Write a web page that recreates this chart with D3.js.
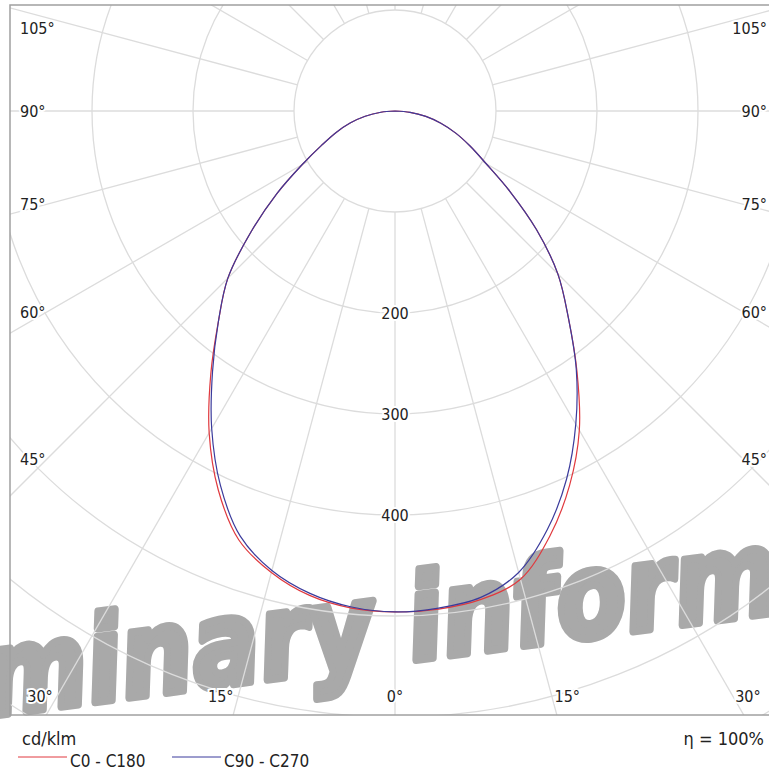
<!DOCTYPE html>
<html>
<head>
<meta charset="utf-8">
<title>Polar LDC</title>
<script src="https://cdn.jsdelivr.net/npm/d3@7"></script>
<style>
  body { margin: 0; background: #fff; }
  svg text { font-family: "DejaVu Sans Condensed", "DejaVu Sans", sans-serif; fill: #222; }
</style>
</head>
<body>
<div id="chart"></div>
<script>
var width = 769, height = 774;

// luminous intensity (cd/klm) by gamma angle
var gammaDeg = [0, 5, 10, 15, 20, 25, 30, 35, 40, 45, 50, 55, 60, 65, 70, 75, 80, 85, 90];
var c0   = [496, 495, 491, 480, 448, 409, 365, 314, 267, 228, 183, 139, 104, 82, 64, 47, 31, 15, 0];
var c180 = [496, 494, 487, 473, 452, 414, 368, 318, 272, 234, 186, 143, 106, 80, 62, 46, 30, 14, 0];
var c90  = [496, 494, 489, 473, 441, 402, 358, 313, 267, 228, 183, 139, 104, 82, 64, 47, 31, 15, 0];
var c270 = [496, 493, 485, 471, 448, 409, 363, 315, 272, 234, 186, 143, 106, 80, 62, 46, 30, 14, 0];

var ringValues = [100, 200, 300, 400, 500, 600, 700];
var ringLabels = [200, 300, 400];
var sideAngles = [105, 90, 75, 60, 45];
var bottomAngles = [-30, -15, 0, 15, 30];
var spokeAngles = d3.range(0, 360, 15);

var frame = {x0: 10, y0: 5, x1: 772, y1: 715};
var cx = 395, cy = 111;
var deg = Math.PI / 180;

var r = d3.scaleLinear().domain([0, 100]).range([0, 101]);

var svg = d3.select("#chart").append("svg").attr("width", width).attr("height", height);

svg.append("defs").append("clipPath").attr("id", "frameClip")
  .append("rect")
  .attr("x", frame.x0).attr("y", frame.y0)
  .attr("width", frame.x1 - frame.x0).attr("height", frame.y1 - frame.y0);

// watermark under everything
var wmX = 402, wmY = 662;
svg.append("text")
  .attr("x", wmX).attr("y", wmY)
  .attr("text-anchor", "middle")
  .attr("transform", "rotate(-7.5," + wmX + "," + wmY + ")")
  .attr("textLength", 1350)
  .attr("lengthAdjust", "spacingAndGlyphs")
  .style("font-family", "'DejaVu Sans', sans-serif")
  .style("font-weight", "bold")
  .style("font-style", "italic")
  .style("font-size", "118px")
  .style("fill", "#a9a9a9")
  .style("stroke", "#a9a9a9")
  .style("stroke-width", 8)
  .style("stroke-linejoin", "round")
  .text("Preliminary information");

// grid, clipped to the frame
var grid = svg.append("g").attr("clip-path", "url(#frameClip)")
  .append("g")
  .attr("transform", "translate(" + cx + "," + cy + ")");

grid.selectAll("circle.ring")
  .data(ringValues)
  .enter().append("circle")
  .attr("class", "ring")
  .attr("r", function(d) { return r(d); })
  .attr("fill", "none")
  .attr("stroke", "#dcdcdc")
  .attr("stroke-width", 1.3);

grid.selectAll("line.spoke")
  .data(spokeAngles)
  .enter().append("line")
  .attr("class", "spoke")
  .attr("x1", function(d) { return r(100) * Math.sin(d * deg); })
  .attr("y1", function(d) { return r(100) * Math.cos(d * deg); })
  .attr("x2", function(d) { return 1100 * Math.sin(d * deg); })
  .attr("y2", function(d) { return 1100 * Math.cos(d * deg); })
  .attr("stroke", "#dcdcdc")
  .attr("stroke-width", 1.3);

// frame
svg.append("rect")
  .attr("x", frame.x0).attr("y", frame.y0)
  .attr("width", frame.x1 - frame.x0).attr("height", frame.y1 - frame.y0)
  .attr("fill", "none")
  .attr("stroke", "#a0a0a0")
  .attr("stroke-width", 1.5);

// curves
function halfPoints(left, right) {
  var pts = [];
  for (var i = gammaDeg.length - 1; i >= 0; i--) pts.push({a: Math.PI + gammaDeg[i] * deg, v: left[i]});
  for (var j = 1; j < gammaDeg.length; j++) pts.push({a: Math.PI - gammaDeg[j] * deg, v: right[j]});
  return pts;
}

var line = d3.lineRadial()
  .angle(function(d) { return d.a; })
  .radius(function(d) { return r(d.v); })
  .curve(d3.curveCatmullRom);

var curves = svg.append("g").attr("transform", "translate(" + cx + "," + cy + ")");
curves.append("path")
  .attr("d", line(halfPoints(c180, c0)))
  .attr("fill", "none").attr("stroke", "#e0393e").attr("stroke-width", 1.2);
curves.append("path")
  .attr("d", line(halfPoints(c270, c90)))
  .attr("fill", "none").attr("stroke", "#3b3b9c").attr("stroke-width", 1.2);

// ring labels
svg.selectAll("text.ringlab")
  .data(ringLabels)
  .enter().append("text")
  .attr("class", "ringlab")
  .attr("x", cx)
  .attr("y", function(d) { return cy + r(d) + 6; })
  .attr("text-anchor", "middle")
  .style("font-size", "16px")
  .style("stroke", "#fff").style("stroke-width", 4).style("paint-order", "stroke")
  .text(function(d) { return d; });

// angle labels on the sides
function sideY(a) { return Math.max(28, cy + 348 * Math.cos(a * deg) / Math.sin(a * deg)); }

svg.selectAll("text.sideL")
  .data(sideAngles)
  .enter().append("text")
  .attr("x", 20)
  .attr("y", function(d) { return sideY(d) + 6; })
  .style("font-size", "16px")
  .style("stroke", "#fff").style("stroke-width", 4).style("paint-order", "stroke")
  .text(function(d) { return d + "\u00b0"; });

svg.selectAll("text.sideR")
  .data(sideAngles)
  .enter().append("text")
  .attr("x", 767)
  .attr("y", function(d) { return sideY(d) + 6; })
  .attr("text-anchor", "end")
  .style("font-size", "16px")
  .style("stroke", "#fff").style("stroke-width", 4).style("paint-order", "stroke")
  .text(function(d) { return d + "\u00b0"; });

svg.selectAll("text.bottom")
  .data(bottomAngles)
  .enter().append("text")
  .attr("x", function(d) {
    var x = cx + 584 * Math.tan(d * deg);
    return d < 0 ? x - 5 : (d > 0 ? x + 3 : x);
  })
  .attr("y", 702)
  .attr("text-anchor", function(d) { return d < 0 ? "end" : (d > 0 ? "start" : "middle"); })
  .style("font-size", "16px")
  .style("stroke", "#fff").style("stroke-width", 4).style("paint-order", "stroke")
  .text(function(d) { return Math.abs(d) + "\u00b0"; });

// footer
svg.append("text").attr("x", 22).attr("y", 745).style("font-size", "18px").text("cd/klm");
svg.append("text").attr("x", 764).attr("y", 745).attr("text-anchor", "end").style("font-size", "18px").text("\u03b7 = 100%");

var legend = [{name: "C0 - C180", color: "#e0393e", x: 18}, {name: "C90 - C270", color: "#3b3b9c", x: 172}];
var lg = svg.selectAll("g.legend").data(legend).enter().append("g");
lg.append("line")
  .attr("x1", function(d) { return d.x; }).attr("x2", function(d) { return d.x + 49; })
  .attr("y1", 757).attr("y2", 757)
  .attr("stroke", function(d) { return d.color; }).attr("stroke-width", 1);
lg.append("text")
  .attr("x", function(d) { return d.x + 52; }).attr("y", 767)
  .style("font-size", "17px")
  .text(function(d) { return d.name; });
</script>
</body>
</html>
